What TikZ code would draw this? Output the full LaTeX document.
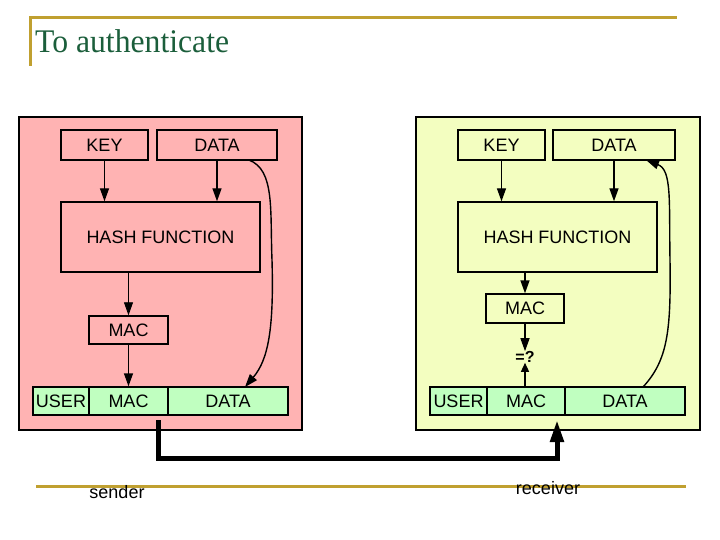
\documentclass[tikz,border=0pt]{standalone}
\usepackage{fontspec}
\setmainfont{Liberation Sans}
\newfontfamily\titlefont{Liberation Serif}
\usetikzlibrary{arrows.meta}
\definecolor{gold}{HTML}{C0A030}
\definecolor{titlegreen}{HTML}{1B5E3B}
\definecolor{pinkpanel}{HTML}{FFB3B3}
\definecolor{yellowpanel}{HTML}{F3FEC0}
\definecolor{greencell}{HTML}{C0FFC0}
\begin{document}
\begin{tikzpicture}[x=1pt,y=-1pt,
  box/.style={draw=black,line width=1.4pt,inner sep=0pt,font=\fontsize{18}{20}\selectfont},
  cell/.style={box,fill=greencell,minimum height=28pt},
  panel/.style={draw=black,line width=2pt},
  arr/.style={-{Triangle[width=9pt,length=13pt]},line width=1.4pt},
  thinarr/.style={-{Triangle[width=9pt,length=13pt]},line width=0.8pt},
  goldline/.style={draw=gold,line width=3pt},
  lbl/.style={font=\fontsize{18}{20}\selectfont,inner sep=0pt}]
\useasboundingbox (0,0) rectangle (720,540);
% title
\draw[goldline] (30,66) -- (30,18) -- (677,18);
\node[anchor=base west,text=titlegreen,font=\titlefont\fontsize{33}{36}\selectfont,xscale=0.96,inner sep=0pt] (title) at (35,53) {To authenticate};
% panels
\draw[panel,fill=pinkpanel] (19,117) rectangle (302,430);
\draw[panel,fill=yellowpanel] (416,117) rectangle (700,430);
% left side
\node[box,minimum width=87pt,minimum height=30pt] (lkey) at (104.5,145) {KEY};
\node[box,minimum width=120pt,minimum height=30pt] (ldata) at (217,145) {DATA};
\node[box,minimum width=199pt,minimum height=70pt] (lhash) at (160.5,237) {HASH FUNCTION};
\node[box,minimum width=79pt,minimum height=28pt] (lmac) at (128.5,330) {MAC};
\node[cell,minimum width=56pt] (luser) at (61,401) {USER};
\node[cell,minimum width=79pt] (lmac2) at (128.5,401) {MAC};
\node[cell,minimum width=120pt] (ldata2) at (228,401) {DATA};
\draw[arr] (lkey.south) -- (lkey.south |- lhash.north);
\draw[arr] (ldata.south) -- (ldata.south |- lhash.north);
\draw[thinarr] (lmac.north |- lhash.south) -- (lmac.north);
\draw[arr] (lmac.south) -- (lmac2.north);
\coordinate (lcs) at (249,160);
\coordinate (lce) at (245,387);
\draw[arr] (lcs) .. controls (275,170) and (270,210) .. (272,260) .. controls (274,330) and (268,360) .. (lce);
% right side
\node[box,minimum width=87pt,minimum height=30pt] (rkey) at (501.5,145) {KEY};
\node[box,minimum width=122pt,minimum height=30pt] (rdata) at (614,145) {DATA};
\node[box,minimum width=199pt,minimum height=70pt] (rhash) at (557.5,237) {HASH FUNCTION};
\node[box,minimum width=78pt,minimum height=29pt] (rmac) at (525,308.5) {MAC};
\node[lbl,font=\bfseries\fontsize{16}{18}\selectfont] (req) at (525,357) {=?};
\node[cell,minimum width=57pt] (ruser) at (458.5,401) {USER};
\node[cell,minimum width=78pt] (rmac2) at (526,401) {MAC};
\node[cell,minimum width=120pt] (rdata2) at (625,401) {DATA};
\draw[arr] (rkey.south) -- (rkey.south |- rhash.north);
\draw[arr] (rdata.south) -- (rdata.south |- rhash.north);
\draw[arr] (rmac.north |- rhash.south) -- (rmac.north);
\draw[arr] (rmac.south) -- (req.north);
\draw[arr,-{Triangle[width=8pt,length=9pt]}] (req.south |- rmac2.north) -- (req.south);
\coordinate (rcs) at (643,387);
\coordinate (rce) at (646,160);
\draw[arr] (rcs) .. controls (668,360) and (671,330) .. (670,260) .. controls (669,200) and (672,170) .. (rce);
% transmission
\coordinate (sendpt) at (158,420);
\coordinate (recvpt) at (557,420);
\draw[line width=5pt,-{Triangle[width=13pt,length=22pt]}] (sendpt) -- ++(0,38) -| (recvpt);
% bottom
\draw[goldline] (36,486) -- (686,486);
\node[lbl] (sender) at (117,492) {sender};
\node[lbl] (receiver) at (548,488) {receiver};
\end{tikzpicture}
\end{document}
